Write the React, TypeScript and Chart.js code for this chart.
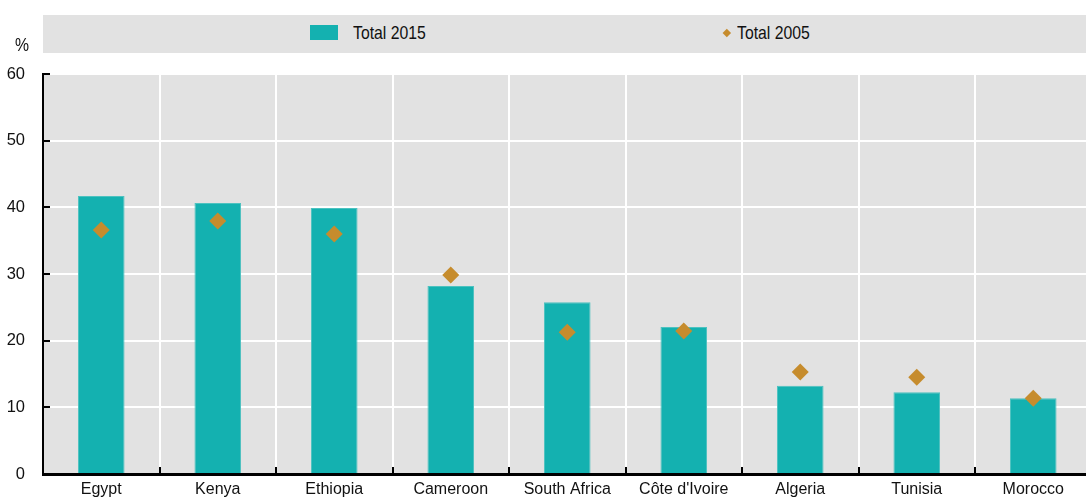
import React, { useEffect, useRef } from 'react';
import { Chart, registerables } from 'chart.js';

Chart.register(...registerables);

const FONT = "'Liberation Sans Narrow', 'Arial Narrow', 'Liberation Sans', Arial, sans-serif";

const categories = ['Egypt', 'Kenya', 'Ethiopia', 'Cameroon', 'South Africa', "Côte d'Ivoire", 'Algeria', 'Tunisia', 'Morocco'];
const label2015 = 'Total 2015';
const label2005 = 'Total 2005';
const total2015 = [41.7, 40.65, 39.9, 28.2, 25.75, 22.05, 13.25, 12.25, 11.35];
const total2005 = [36.6, 37.95, 36.0, 29.85, 21.25, 21.45, 15.3, 14.5, 11.35];
const yMin = 0;
const yMax = 60;
const yStep = 10;
const unitLabel = '%';

const TEAL = '#14b1b0';
const TEAL_EDGE = '#4cc2c0';
const GOLD = '#c68c2d';
const PANEL = '#e2e2e2';
const CLEAR = 'rgba(0,0,0,0)';

const panelBg = {
  id: 'panelBg',
  beforeDraw(chart: any) {
    const { ctx, chartArea: a } = chart;
    ctx.save();
    ctx.fillStyle = PANEL;
    ctx.fillRect(a.left, a.top, a.right - a.left, a.bottom - a.top);
    ctx.restore();
  },
};

export default function App() {
  const ref = useRef<HTMLCanvasElement>(null);

  useEffect(() => {
    const chart = new Chart(ref.current as HTMLCanvasElement, {
      type: 'bar',
      data: {
        labels: categories,
        datasets: [
          {
            type: 'line',
            label: label2005,
            data: total2005,
            showLine: false,
            pointStyle: 'rectRot',
            pointRadius: 8.5,
            pointHoverRadius: 8.5,
            pointBackgroundColor: GOLD,
            pointBorderColor: GOLD,
            pointBorderWidth: 0,
            backgroundColor: GOLD,
            borderColor: GOLD,
            order: 0,
          } as any,
          {
            type: 'bar',
            label: label2015,
            data: total2015,
            backgroundColor: TEAL,
            borderColor: TEAL_EDGE,
            borderWidth: 1,
            barPercentage: 0.4,
            categoryPercentage: 1,
            order: 1,
          } as any,
        ],
      },
      options: {
        responsive: false,
        animation: false,
        layout: { padding: { top: 74, right: 4, left: 0, bottom: 0 } },
        plugins: { legend: { display: false }, tooltip: { enabled: false }, title: { display: false } },
        scales: {
          x: {
            offset: true,
            grid: {
              offset: true,
              color: (c: any) => (c.index === 0 ? CLEAR : '#ffffff'),
              lineWidth: 2,
              drawTicks: true,
              tickColor: '#000000',
              tickLength: -7,
              tickWidth: 2,
            },
            border: { display: true, color: '#000000', width: 3 },
            ticks: {
              color: '#111111',
              font: { family: FONT, size: 16 },
              padding: 13,
              maxRotation: 0,
              autoSkip: false,
            },
            afterFit: (s: any) => {
              s.height = 46;
            },
          },
          y: {
            min: yMin,
            max: yMax,
            ticks: {
              stepSize: yStep,
              color: '#111111',
              font: { family: FONT, size: 16.5 },
              padding: 25,
            },
            grid: {
              color: (c: any) => (c.tick && c.tick.value === 0 ? CLEAR : '#ffffff'),
              lineWidth: 2,
              drawTicks: true,
              tickColor: '#000000',
              tickLength: -7,
              tickWidth: 2,
            },
            border: { display: true, color: '#000000', width: 2 },
            afterFit: (s: any) => {
              s.width = 43;
            },
          },
        },
      } as any,
      plugins: [panelBg],
    });
    return () => chart.destroy();
  }, []);

  const textStyle: React.CSSProperties = {
    position: 'absolute',
    fontFamily: FONT,
    fontSize: 19,
    lineHeight: 1,
    color: '#111',
    whiteSpace: 'nowrap',
    transform: 'scaleX(0.83)',
    transformOrigin: 'left top',
  };

  return (
    <div style={{ position: 'fixed', left: 0, top: 0, width: 1100, height: 520, background: '#fff' }}>
      <canvas ref={ref} width={1100} height={520} style={{ position: 'absolute', left: 0, top: 0 }} />
      <div style={{ position: 'absolute', left: 43, top: 15, width: 1057, height: 38, background: PANEL }} />
      <div style={{ position: 'absolute', left: 310, top: 25, width: 28, height: 15, background: TEAL }} />
      <div style={{ ...textStyle, left: 352.5, top: 23 }}>{label2015}</div>
      <div
        style={{
          position: 'absolute',
          left: 724.2,
          top: 30.2,
          width: 5.66,
          height: 5.66,
          background: GOLD,
          transform: 'rotate(45deg)',
        }}
      />
      <div style={{ ...textStyle, left: 736.5, top: 23 }}>{label2005}</div>
      <div style={{ ...textStyle, left: 14.5, top: 35 }}>{unitLabel}</div>
    </div>
  );
}
